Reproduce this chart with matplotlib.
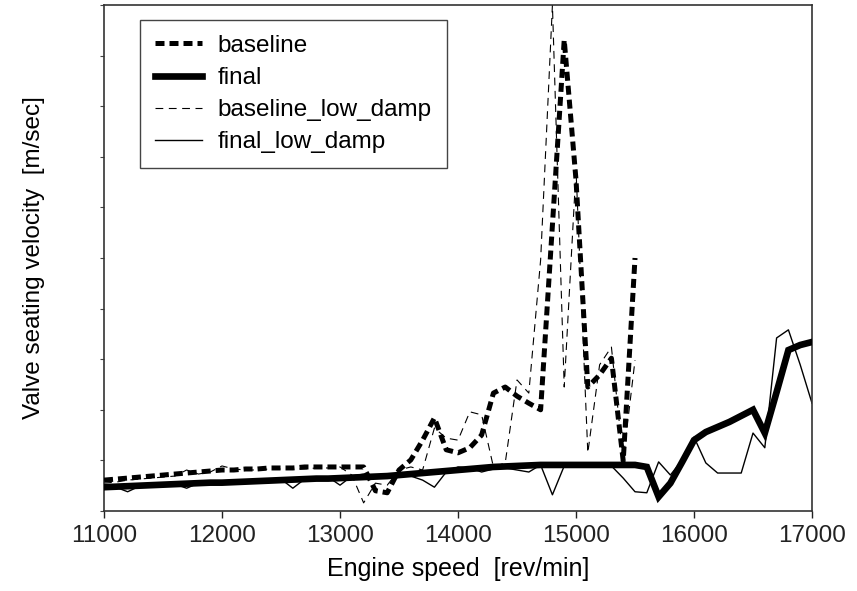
import numpy as np
import matplotlib.pyplot as plt

# engine speed grids [rev/min]
speed_base = np.arange(11000, 15501, 100)
speed_final = np.arange(11000, 17001, 100)

# valve seating velocity (y axis unlabeled, 0..10)
baseline = [0.61, 0.63, 0.65, 0.67, 0.69, 0.71, 0.73, 0.75, 0.77, 0.79,
            0.81, 0.81, 0.83, 0.83, 0.85, 0.85, 0.85, 0.87, 0.87, 0.87,
            0.87, 0.87, 0.87, 0.40, 0.36, 0.81, 1.01, 1.40, 1.84, 1.21,
            1.15, 1.25, 1.50, 2.33, 2.45, 2.27, 2.13, 2.00, 5.65, 9.31,
            6.54, 2.45, 2.69, 3.02, 0.99, 5.00]

baseline_low_damp = [0.55, 0.57, 0.61, 0.63, 0.65, 0.67, 0.69, 0.81, 0.73, 0.77,
                     0.89, 0.83, 0.81, 0.81, 0.83, 0.83, 0.83, 0.83, 0.85, 0.85,
                     0.87, 0.71, 0.16, 0.55, 0.51, 0.81, 0.87, 0.81, 1.64, 1.44,
                     1.40, 1.96, 1.90, 0.87, 0.95, 2.59, 2.33, 4.96, 10.0, 2.45,
                     6.74, 1.15, 2.89, 3.24, 1.01, 2.98]

final = [0.47, 0.48, 0.49, 0.50, 0.51, 0.52, 0.53, 0.54, 0.55, 0.56,
         0.56, 0.57, 0.58, 0.59, 0.60, 0.61, 0.62, 0.63, 0.64, 0.64,
         0.65, 0.66, 0.67, 0.68, 0.69, 0.71, 0.73, 0.75, 0.77, 0.79,
         0.81, 0.83, 0.85, 0.87, 0.88, 0.89, 0.90, 0.91, 0.91, 0.91,
         0.91, 0.91, 0.91, 0.91, 0.91, 0.91, 0.87, 0.28, 0.55, 0.97,
         1.40, 1.56, 1.66, 1.76, 1.88, 2.00, 1.54, 2.35, 3.18, 3.28, 3.34]

final_low_damp = [0.45, 0.47, 0.38, 0.49, 0.49, 0.51, 0.53, 0.45, 0.55, 0.57,
                  0.57, 0.59, 0.59, 0.61, 0.61, 0.63, 0.45, 0.63, 0.65, 0.67,
                  0.51, 0.69, 0.73, 0.69, 0.65, 0.69, 0.69, 0.61, 0.47, 0.77,
                  0.87, 0.85, 0.77, 0.83, 0.85, 0.81, 0.77, 0.91, 0.32, 0.89,
                  0.91, 0.91, 0.91, 0.89, 0.65, 0.38, 0.36, 0.97, 0.71, 1.01,
                  1.46, 0.95, 0.75, 0.75, 0.75, 1.54, 1.25, 3.42, 3.58, 2.89, 2.13]

xticks = [11000, 12000, 13000, 14000, 15000, 16000, 17000]

font = ['Liberation Sans', 'DejaVu Sans']

fig = plt.figure(figsize=(8.57, 5.91), dpi=100)
ax = fig.add_axes([0.1214, 0.1354, 0.8261, 0.8561])

l1, = ax.plot(speed_base, baseline, color='black', lw=3.6, dashes=(1.8, 1.0),
              label='baseline', zorder=4)
l2, = ax.plot(speed_final, final, color='black', lw=4.8, solid_joinstyle='miter',
              label='final', zorder=3)
l3, = ax.plot(speed_base, baseline_low_damp, color='black', lw=0.8, dashes=(7, 5),
              label='baseline_low_damp', zorder=2)
l4, = ax.plot(speed_final, final_low_damp, color='black', lw=1.0,
              label='final_low_damp', zorder=2)

ax.set_xlim(11000, 17000)
ax.set_ylim(0, 10)
ax.set_xticks(xticks)
ax.set_xticklabels([str(t) for t in xticks], family=font, fontsize=17.5)
ax.set_yticks(np.arange(0, 11, 1))
ax.set_yticklabels([])
ax.tick_params(axis='x', direction='out', length=5, width=1, pad=5, colors='#222222')
ax.tick_params(axis='y', direction='out', length=3, width=0.8, colors='#444444')
for s in ax.spines.values():
    s.set_linewidth(1.2)
    s.set_color('#333333')

ax.set_xlabel('Engine speed  [rev/min]', family=font, fontsize=18, labelpad=7)
ax.set_ylabel('Valve seating velocity  [m/sec]', family=font, fontsize=17.5, labelpad=36)

leg = ax.legend(handles=[l1, l2, l3, l4], loc='upper left', borderaxespad=0,
                bbox_to_anchor=(0.051, 0.970), prop={'family': font, 'size': 17.5},
                fancybox=False, edgecolor='#444444', framealpha=1,
                handlelength=1.95, labelspacing=0.42, borderpad=0.6, handletextpad=0.65)
leg.get_frame().set_linewidth(1.0)

fig.savefig('out.png', dpi=100)
